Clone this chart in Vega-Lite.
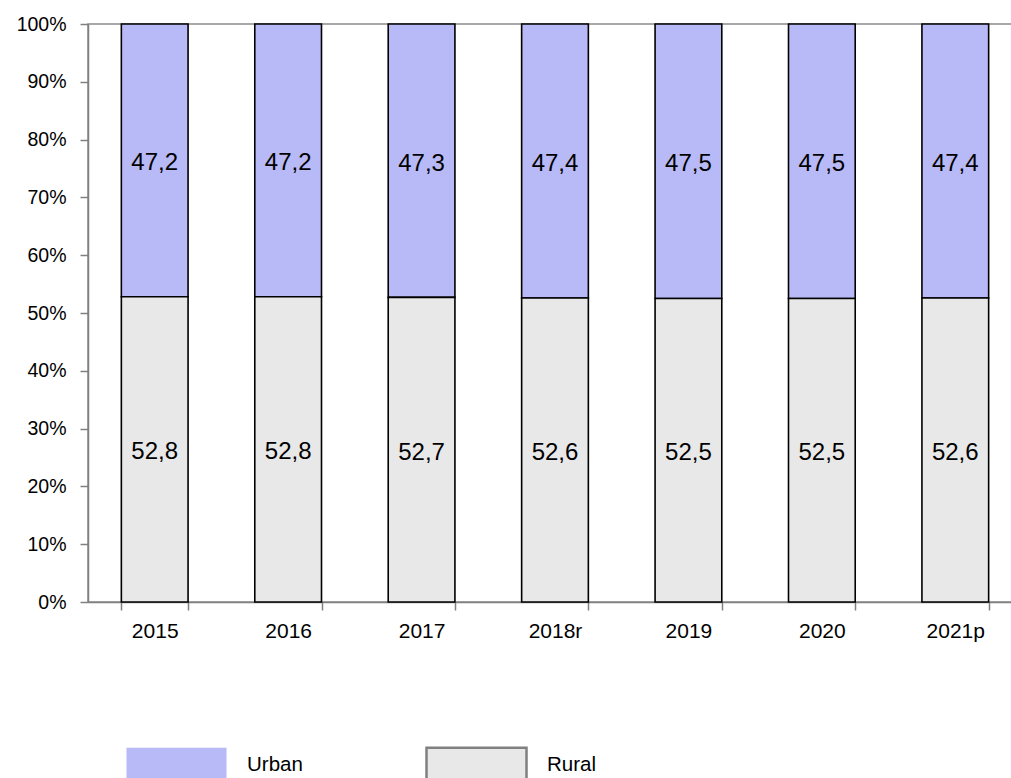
{
  "$schema": "https://vega.github.io/schema/vega-lite/v6.json",
  "width": 934,
  "height": 578,
  "autosize": {"type": "none"},
  "padding": {"left": 88, "top": 24, "right": 0, "bottom": 176},
  "config": {
    "font": "Liberation Sans",
    "view": {"stroke": "#8c8c8c", "strokeWidth": 1.5},
    "locale": {"number": {"decimal": ",", "thousands": ".", "grouping": [3], "currency": ["", ""]}}
  },
  "data": {"values": [
    {"year": "2015", "type": "Urban", "value": 47.2},
    {"year": "2015", "type": "Rural", "value": 52.8},
    {"year": "2016", "type": "Urban", "value": 47.2},
    {"year": "2016", "type": "Rural", "value": 52.8},
    {"year": "2017", "type": "Urban", "value": 47.3},
    {"year": "2017", "type": "Rural", "value": 52.7},
    {"year": "2018r", "type": "Urban", "value": 47.4},
    {"year": "2018r", "type": "Rural", "value": 52.6},
    {"year": "2019", "type": "Urban", "value": 47.5},
    {"year": "2019", "type": "Rural", "value": 52.5},
    {"year": "2020", "type": "Urban", "value": 47.5},
    {"year": "2020", "type": "Rural", "value": 52.5},
    {"year": "2021p", "type": "Urban", "value": 47.4},
    {"year": "2021p", "type": "Rural", "value": 52.6}
  ]},
  "transform": [
    {"stack": "value", "groupby": ["year"], "sort": [{"field": "type", "order": "ascending"}], "as": ["v0", "v1"]},
    {"calculate": "(datum.v0 + datum.v1) / 2", "as": "mid"}
  ],
  "encoding": {
    "x": {
      "field": "year", "type": "nominal", "sort": null, "title": null,
      "scale": {"paddingInner": 0.5, "paddingOuter": 0.25},
      "axis": {
        "labelAngle": 0, "labelFontSize": 21, "labelColor": "#000", "labelPadding": 10,
        "tickBand": "extent", "tickSize": 8, "tickColor": "#808080", "tickWidth": 1.5,
        "domainColor": "#808080", "domainWidth": 1.5, "grid": false
      }
    }
  },
  "layer": [
    {
      "mark": {"type": "bar", "opacity": 0},
      "encoding": {
        "y": {"field": "v0", "type": "quantitative"},
        "y2": {"field": "v1"},
        "color": {
          "field": "type", "type": "nominal",
          "scale": {"domain": ["Urban", "Rural"], "range": ["#b8b9f7", "#e8e8e8"]},
          "legend": {
            "title": null, "orient": "none", "direction": "horizontal",
            "legendX": 37, "legendY": 689, "padding": 0,
            "symbolType": "M-1,-0.34H1V0.34H-1Z", "symbolSize": 10000,
            "symbolOpacity": 1, "symbolStrokeWidth": 2.5,
            "labelFontSize": 20.5, "labelColor": "#000", "labelOffset": 19, "labelLimit": 0,
            "columnPadding": 118
          }
        },
        "stroke": {
          "field": "type", "type": "nominal",
          "scale": {"domain": ["Urban", "Rural"], "range": ["transparent", "#808080"]},
          "legend": {
            "title": null, "orient": "none", "direction": "horizontal",
            "legendX": 37, "legendY": 689, "padding": 0,
            "symbolType": "M-1,-0.34H1V0.34H-1Z", "symbolSize": 10000,
            "symbolOpacity": 1, "symbolStrokeWidth": 2.5,
            "labelFontSize": 20.5, "labelColor": "#000", "labelOffset": 19, "labelLimit": 0,
            "columnPadding": 118
          }
        }
      }
    },
    {
      "mark": {"type": "bar", "stroke": "#000", "strokeWidth": 1.6},
      "encoding": {
        "y": {
          "field": "v0", "type": "quantitative", "title": null,
          "scale": {"domain": [0, 100], "nice": false},
          "axis": {
            "values": [0, 10, 20, 30, 40, 50, 60, 70, 80, 90, 100],
            "labelExpr": "datum.value + '%'",
            "labelFontSize": 19.5, "labelColor": "#000", "labelPadding": 14,
            "tickSize": 8, "tickColor": "#808080", "tickWidth": 1.5,
            "domainColor": "#808080", "domainWidth": 1.5, "grid": false
          }
        },
        "y2": {"field": "v1"},
        "fill": {
          "field": "type", "type": "nominal",
          "scale": {"domain": ["Urban", "Rural"], "range": ["#b8b9f7", "#e8e8e8"]},
          "legend": null
        }
      }
    },
    {
      "mark": {"type": "text", "fontSize": 24, "color": "#000", "baseline": "middle", "dy": 3},
      "encoding": {
        "y": {"field": "mid", "type": "quantitative"},
        "text": {"field": "value", "type": "quantitative", "format": ".1f"}
      }
    }
  ]
}
